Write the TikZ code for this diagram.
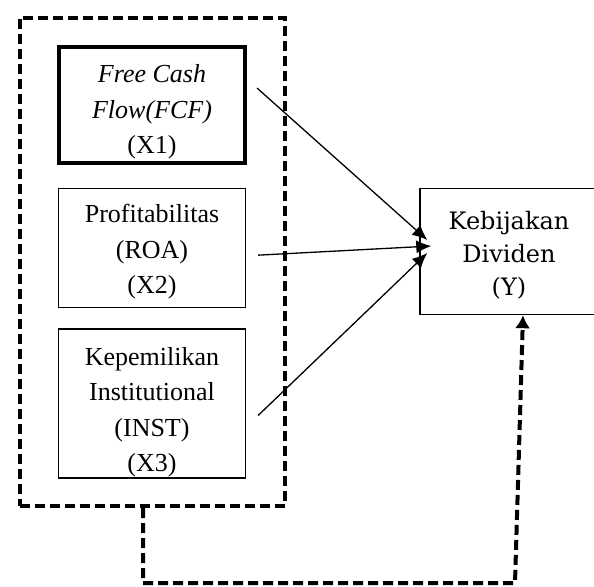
\documentclass[tikz,border=0pt]{standalone}
\usepackage{fontspec}
\setmainfont{Liberation Serif}
\newfontfamily\ydfont{DejaVu Serif}
\usetikzlibrary{arrows.meta,positioning,fit}

\begin{document}
\begin{tikzpicture}[x=0.5pt, y=-0.5pt, node distance=10pt, >=Latex,
  varbox/.style={draw, line width=0.65pt, align=center, inner sep=0pt, minimum width=93.5pt,
    minimum height=59.5pt, font=\fontsize{13}{17.75}\selectfont},
  group/.style={draw, line width=2pt, dash pattern=on 5pt off 2.5pt, inner xsep=18.75pt, inner ysep=13.75pt},
  link/.style={line width=0.65pt, -{Latex[length=7.5pt, width=6.5pt]}},
  dashlink/.style={line width=2pt, dash pattern=on 5pt off 2.5pt, -{Latex[length=6.5pt, width=7.5pt]}}]
  \useasboundingbox (0,0) rectangle (594,586);
  % independent variables
  \node[varbox, line width=2pt, minimum width=93pt, minimum height=58pt] (x1) at (152,105)
    {\rule{0pt}{16pt}\textit{Free Cash}\\\textit{Flow(FCF)}\\(X1)};
  \node[varbox, below=11.5pt of x1] (x2) {\rule{0pt}{13pt}Profitabilitas\\(ROA)\\(X2)};
  \node[varbox, below=of x2, minimum height=74.5pt] (x3)
    {\rule{0pt}{18pt}Kepemilikan\\Institutional\\(INST)\\(X3)};
  \node[group, fit=(x1)(x2)(x3)] (grp) {};
  % dependent variable
  \node[draw, line width=0.7pt, align=center, inner sep=0pt, minimum width=89pt, minimum height=63pt,
    font=\ydfont\fontsize{12}{16.5}\selectfont] (y) at (509,251.5) {\rule{0pt}{13pt}Kebijakan\\Dividen\\(Y)};
  \coordinate (bl) at (143,583);
  \coordinate (br) at (515,583);
  \draw[link] ([xshift=5pt, yshift=8.5pt]x1.east) -- ([xshift=4pt, yshift=5.75pt]y.west);
  \draw[link] ([xshift=6pt, yshift=-3.5pt]x2.east) -- ([xshift=6pt, yshift=2.75pt]y.west);
  \draw[link] ([xshift=6pt, yshift=-6pt]x3.east) -- ([xshift=4pt, yshift=-0.75pt]y.west);
  \draw[dashlink] (grp.south -| bl) -- (bl) -- (br) -- ([xshift=7pt]y.south);
\end{tikzpicture}
\end{document}
